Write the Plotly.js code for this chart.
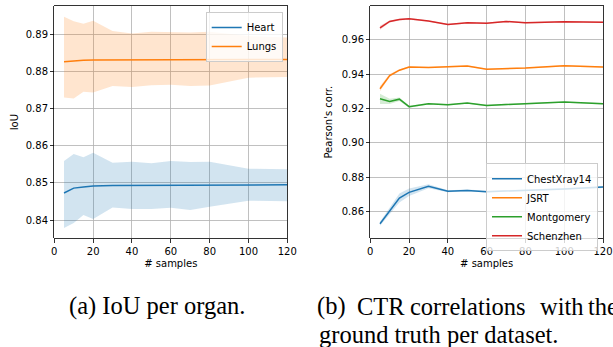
<!DOCTYPE html>
<html>
<head>
<meta charset="utf-8">
<script src="https://cdn.plot.ly/plotly-3.0.1.min.js"></script>
<style>
html,body{margin:0;padding:0;background:#fff;}
#chart{width:613px;height:347px;}
</style>
</head>
<body>
<div id="chart"></div>
<script>
// ---------- data ----------
const samples = [5, 10, 15, 20, 30, 40, 50, 60, 70, 80, 100, 120];

// (a) IoU per organ
const heartMean  = [0.8473, 0.8486, 0.8489, 0.8492, 0.8493, 0.8493, 0.8494, 0.8494, 0.8494, 0.8495, 0.8495, 0.8495];
const heartUpper = [0.8559, 0.8578, 0.8569, 0.8581, 0.8554, 0.8557, 0.8553, 0.8559, 0.8556, 0.8557, 0.8538, 0.8537];
const heartLower = [0.8379, 0.8392, 0.8414, 0.8403, 0.8434, 0.8430, 0.8430, 0.8433, 0.8427, 0.8436, 0.8452, 0.8451];
const lungsMean  = [0.8826, 0.8829, 0.8830, 0.8831, 0.8831, 0.8831, 0.8832, 0.8832, 0.8832, 0.8832, 0.8832, 0.8832];
const lungsUpper = [0.8947, 0.8935, 0.8928, 0.8936, 0.8909, 0.8902, 0.8907, 0.8906, 0.8905, 0.8907, 0.8895, 0.8891];
const lungsLower = [0.8730, 0.8727, 0.8745, 0.8743, 0.8761, 0.8758, 0.8763, 0.8764, 0.8761, 0.8762, 0.8783, 0.8785];

// (b) CTR correlations with the ground truth per dataset
const chestMean = [0.8528, 0.8601, 0.8678, 0.8711, 0.8746, 0.8717, 0.8722, 0.8715, 0.8718, 0.8722, 0.8730, 0.8742];
const chestStd  = [0.0012, 0.0020, 0.0026, 0.0022, 0.0012, 0.0006, 0.0005, 0.0005, 0.0005, 0.0005, 0.0006, 0.0006];
const jsrtMean  = [0.9315, 0.9392, 0.9423, 0.9441, 0.9439, 0.9441, 0.9447, 0.9429, 0.9431, 0.9435, 0.9449, 0.9441];
const jsrtStd   = [0.0015, 0.0009, 0.0006, 0.0005, 0.0004, 0.0004, 0.0004, 0.0004, 0.0004, 0.0004, 0.0004, 0.0004];
const montMean  = [0.9256, 0.9241, 0.9254, 0.9210, 0.9227, 0.9221, 0.9231, 0.9217, 0.9223, 0.9229, 0.9237, 0.9227];
const montStd   = [0.0030, 0.0015, 0.0010, 0.0006, 0.0004, 0.0004, 0.0004, 0.0004, 0.0004, 0.0004, 0.0004, 0.0004];
const schMean   = [0.9670, 0.9707, 0.9718, 0.9722, 0.9709, 0.9689, 0.9699, 0.9697, 0.9707, 0.9699, 0.9705, 0.9703];
const schStd    = [0.0012, 0.0006, 0.0005, 0.0005, 0.0004, 0.0004, 0.0004, 0.0004, 0.0004, 0.0004, 0.0004, 0.0004];

const xTicks  = [0, 20, 40, 60, 80, 100, 120];
const yTicksA = [0.84, 0.85, 0.86, 0.87, 0.88, 0.89];
const yTickTextA = ['0.84', '0.85', '0.86', '0.87', '0.88', '0.89'];
const yTicksB = [0.86, 0.88, 0.90, 0.92, 0.94, 0.96];
const yTickTextB = ['0.86', '0.88', '0.90', '0.92', '0.94', '0.96'];

const captionA = '(a) IoU per organ.';
const captionB1 = ['(b)', 'CTR', 'correlations', 'with', 'the'];
const captionB2 = 'ground truth per dataset.';

// ---------- helpers ----------
const C = {blue:'#1f77b4', orange:'#ff7f0e', green:'#2ca02c', red:'#d62728'};
function rgba(hex, a){
  const r=parseInt(hex.slice(1,3),16), g=parseInt(hex.slice(3,5),16), b=parseInt(hex.slice(5,7),16);
  return `rgba(${r},${g},${b},${a})`;
}
function band(xs, up, lo, color, xa, ya){
  return {x: xs.concat(xs.slice().reverse()), y: up.concat(lo.slice().reverse()),
    type:'scatter', mode:'lines', fill:'toself', fillcolor: rgba(color,0.2),
    line:{width:0, color:'rgba(0,0,0,0)'}, hoverinfo:'skip', showlegend:false, xaxis:xa, yaxis:ya};
}
function line(xs, ys, color, name, xa, ya, leg){
  return {x: xs, y: ys, type:'scatter', mode:'lines', name: name,
    line:{color: color, width:1.5}, xaxis:xa, yaxis:ya, legend: leg};
}
const add = (m,s)=>m.map((v,i)=>v+s[i]);
const sub = (m,s)=>m.map((v,i)=>v-s[i]);

const traces = [
  band(samples, heartUpper, heartLower, C.blue, 'x', 'y'),
  band(samples, lungsUpper, lungsLower, C.orange, 'x', 'y'),
  line(samples, heartMean, C.blue, 'Heart', 'x', 'y', 'legend'),
  line(samples, lungsMean, C.orange, 'Lungs', 'x', 'y', 'legend'),

  band(samples, add(chestMean,chestStd), sub(chestMean,chestStd), C.blue, 'x2', 'y2'),
  band(samples, add(jsrtMean,jsrtStd), sub(jsrtMean,jsrtStd), C.orange, 'x2', 'y2'),
  band(samples, add(montMean,montStd), sub(montMean,montStd), C.green, 'x2', 'y2'),
  band(samples, add(schMean,schStd), sub(schMean,schStd), C.red, 'x2', 'y2'),
  line(samples, chestMean, C.blue, 'ChestXray14', 'x2', 'y2', 'legend2'),
  line(samples, jsrtMean, C.orange, 'JSRT', 'x2', 'y2', 'legend2'),
  line(samples, montMean, C.green, 'Montgomery', 'x2', 'y2', 'legend2'),
  line(samples, schMean, C.red, 'Schenzhen', 'x2', 'y2', 'legend2')
];

const W = 613, H = 347;
const tickFont = {family:'DejaVu Sans', size:10, color:'#000'};
function xAxis(l, r){
  return {domain:[l/W, r/W], range:[0,120], tickvals:xTicks, ticktext:xTicks.map(String),
    ticks:'outside', ticklen:3.5, tickwidth:0.8, tickcolor:'#000',
    showline:true, mirror:true, linecolor:'#000', linewidth:0.8,
    showgrid:true, gridcolor:'#b0b0b0', gridwidth:0.8, zeroline:false,
    tickfont:tickFont, title:{text:'# samples', font:tickFont, standoff:4}};
}
function yAxis(range, tv, tt, title, standoff){
  return {domain:[(H-238.3)/H, (H-6)/H], range:range, tickvals:tv, ticktext:tt,
    ticks:'outside', ticklen:3.5, tickwidth:0.8, tickcolor:'#000',
    showline:true, mirror:true, linecolor:'#000', linewidth:0.8,
    showgrid:true, gridcolor:'#b0b0b0', gridwidth:0.8, zeroline:false,
    tickfont:tickFont, title:{text:title, font:tickFont, standoff:standoff}};
}

const capFont = {family:'Liberation Serif', size:24.5, color:'#000'};
const annotations = [
  {text:captionA, xref:'paper', yref:'paper', x:157/W, y:(H-306)/H, xanchor:'center', yanchor:'middle',
   showarrow:false, font:capFont, borderpad:0}
];
const bX = [316.5, 356, 408.5, 539, 587];
captionB1.forEach((w,i)=>annotations.push({text:w, xref:'paper', yref:'paper', x:bX[i]/W, y:(H-306)/H,
  xanchor:'left', yanchor:'middle', showarrow:false, font:capFont, borderpad:0}));
annotations.push({text:captionB2, xref:'paper', yref:'paper', x:317.5/W, y:(H-334)/H,
  xanchor:'left', yanchor:'middle', showarrow:false, font:capFont, borderpad:0});

const legendCommon = {bgcolor:'rgba(255,255,255,0.8)', bordercolor:'#cccccc', borderwidth:1,
  font:{family:'DejaVu Sans', size:10, color:'#000'}, xanchor:'right', yanchor:'top', itemwidth:30,
  traceorder:'normal'};

const layout = {
  width:W, height:H, margin:{l:0,r:0,t:0,b:0},
  paper_bgcolor:'#fff', plot_bgcolor:'#fff',
  font:{family:'DejaVu Sans', size:10, color:'#000'},
  showlegend:true,
  xaxis: xAxis(54.3, 287.3),
  yaxis: yAxis([0.8351, 0.8976], yTicksA, yTickTextA, 'IoU', 5),
  xaxis2: Object.assign(xAxis(370.3, 603), {anchor:'y2'}),
  yaxis2: Object.assign(yAxis([0.8443, 0.9797], yTicksB, yTickTextB, "Pearson's corr.", 7), {anchor:'x2'}),
  legend: Object.assign({}, legendCommon, {x:282.7/W, y:(H-12)/H}),
  legend2: Object.assign({}, legendCommon, {x:598/W, y:(H-163.3)/H}),
  annotations: annotations
};
layout.xaxis.anchor = 'y';
layout.yaxis.anchor = 'x';

Plotly.newPlot('chart', traces, layout, {staticPlot:true, displayModeBar:false});
</script>
</body>
</html>
